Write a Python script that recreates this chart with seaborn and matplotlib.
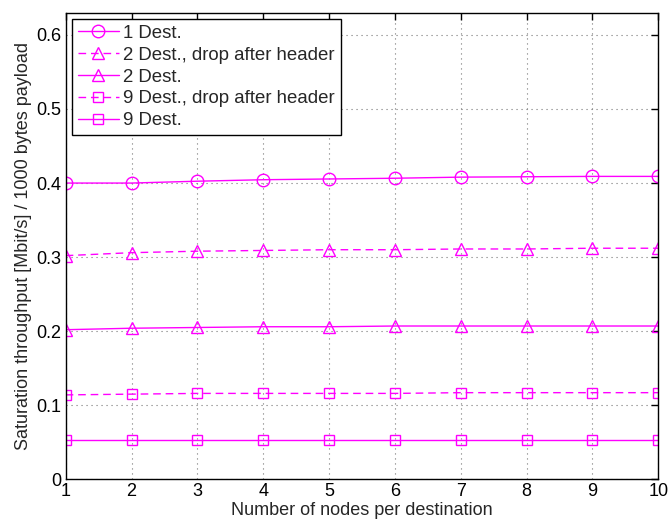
import pandas as pd
import seaborn as sns
import matplotlib.pyplot as plt

nodes = [1, 2, 3, 4, 5, 6, 7, 8, 9, 10]
dest1 = [0.400, 0.400, 0.4025, 0.4045, 0.4055, 0.4065, 0.408, 0.4085, 0.409, 0.409]
dest2_drop = [0.302, 0.306, 0.308, 0.309, 0.310, 0.310, 0.311, 0.311, 0.312, 0.312]
dest2 = [0.202, 0.204, 0.205, 0.206, 0.206, 0.207, 0.207, 0.207, 0.207, 0.207]
dest9_drop = [0.114, 0.115, 0.116, 0.116, 0.116, 0.116, 0.117, 0.117, 0.117, 0.117]
dest9 = [0.053, 0.053, 0.053, 0.053, 0.053, 0.053, 0.053, 0.053, 0.053, 0.053]

series = [
    ("1 Dest.", dest1, "-", "o", 9),
    ("2 Dest., drop after header", dest2_drop, (0, (5.5, 3.5)), "^", 9),
    ("2 Dest.", dest2, "-", "^", 9),
    ("9 Dest., drop after header", dest9_drop, (0, (5.5, 3.5)), "s", 6.5),
    ("9 Dest.", dest9, "-", "s", 6.5),
]

sns.set_style("white")
plt.rcParams['font.family'] = ['Liberation Sans', 'DejaVu Sans']
plt.rcParams['xtick.direction'] = 'in'
plt.rcParams['ytick.direction'] = 'in'

fig = plt.figure(figsize=(6.68, 5.25), dpi=100)
ax = fig.add_axes([0.0983, 0.087, 0.8872, 0.8888])

for name, vals, ls, mk, ms in series:
    df = pd.DataFrame({"x": nodes, "y": vals})
    sns.lineplot(data=df, x="x", y="y", ax=ax, color="#ff00ff", linestyle=ls,
                 marker=mk, markersize=ms, markerfacecolor="none",
                 markeredgecolor="#ff00ff", markeredgewidth=1.0, linewidth=1.0,
                 label=name)

ax.set_xlim(1, 10)
ax.set_ylim(0, 0.63)
ax.set_xticks(nodes)
ax.set_yticks([0, 0.1, 0.2, 0.3, 0.4, 0.5, 0.6])
ax.set_yticklabels(["0", "0.1", "0.2", "0.3", "0.4", "0.5", "0.6"])
ax.tick_params(labelsize=13, top=True, right=True, length=5, width=1, colors="black", pad=3)
ax.grid(True, linestyle=(0, (1, 3.5)), color="#777777", linewidth=0.8)
for s in ax.spines.values():
    s.set_color("black")
    s.set_linewidth(1.0)

ax.set_xlabel("Number of nodes per destination", fontsize=13, labelpad=1)
ax.set_ylabel("Saturation throughput [Mbit/s] / 1000 bytes payload", fontsize=13, labelpad=3)

leg = ax.legend(loc="upper left", fontsize=13.4, frameon=True, fancybox=False,
                edgecolor="black", framealpha=1, borderaxespad=0.35,
                handlelength=2.2, handletextpad=0.25, labelspacing=0.26,
                borderpad=0.3)
leg.get_frame().set_linewidth(1.0)

plt.savefig("out.png", format="png", dpi=100)
plt.close("all")
